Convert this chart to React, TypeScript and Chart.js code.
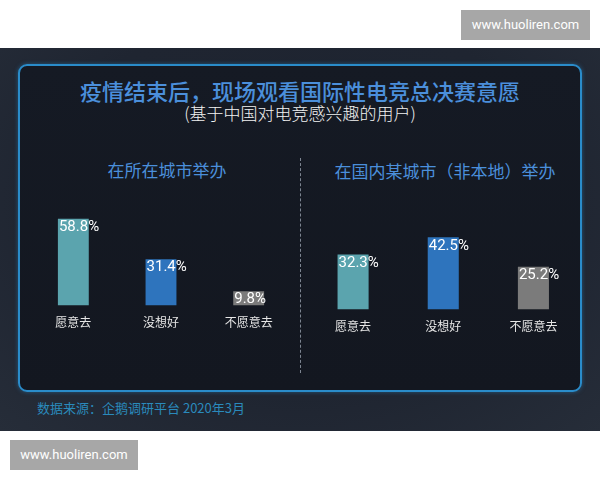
import React, { useEffect, useRef } from "react";
import { Chart, registerables } from "chart.js";

Chart.register(...registerables);

// data
const categories = ["愿意去", "没想好", "不愿意去"];
const localCityValues = [58.8, 31.4, 9.8];
const otherCityValues = [32.3, 42.5, 25.2];
const barColors = ["#5ba4ae", "#2e74bd", "#7b7b7b"];

const CJK = '"Noto Sans CJK SC", "Noto Sans", sans-serif';
const NUM = 'Roboto, "Noto Sans", sans-serif';

// value label at the top-left corner inside each bar
const valueLabels = {
  id: "valueLabels",
  afterDatasetsDraw(chart: any) {
    const ctx = chart.ctx;
    const meta = chart.getDatasetMeta(0);
    const values = chart.data.datasets[0].data as number[];
    ctx.save();
    ctx.fillStyle = "#ffffff";
    ctx.font = "15px " + NUM;
    ctx.textAlign = "left";
    ctx.textBaseline = "top";
    meta.data.forEach((bar: any, i: number) => {
      ctx.fillText(values[i].toFixed(1) + "%", bar.x - bar.width / 2 + 1, bar.y + 1);
    });
    ctx.restore();
  },
};

interface BarPanelProps {
  values: number[];
  yMax: number;
  pad: { left: number; right: number; top: number; bottom: number };
  barPct: number;
}

const BarPanel: React.FC<BarPanelProps> = ({ values, yMax, pad, barPct }) => {
  const canvasRef = useRef<HTMLCanvasElement | null>(null);
  const chartRef = useRef<Chart | null>(null);

  useEffect(() => {
    if (chartRef.current) chartRef.current.destroy();
    if (canvasRef.current) {
      chartRef.current = new Chart(canvasRef.current, {
        type: "bar",
        data: {
          labels: categories,
          datasets: [
            {
              data: values,
              backgroundColor: barColors,
              borderWidth: 0,
              barPercentage: barPct,
              categoryPercentage: 1,
            },
          ],
        },
        options: {
          animation: false,
          responsive: true,
          maintainAspectRatio: false,
          layout: { padding: pad },
          scales: {
            x: {
              grid: { display: false, drawTicks: false },
              border: { display: false },
              ticks: {
                color: "#e6e6e6",
                padding: 10,
                font: { family: CJK, size: 12 },
              },
            },
            y: { display: false, min: 0, max: yMax },
          },
          plugins: { legend: { display: false }, tooltip: { enabled: false } },
        },
        plugins: [valueLabels],
      });
    }
    return () => {
      if (chartRef.current) chartRef.current.destroy();
      chartRef.current = null;
    };
  }, [values, yMax]);

  return <canvas ref={canvasRef} />;
};

const watermark: React.CSSProperties = {
  position: "absolute",
  width: 129,
  height: 30,
  background: "#a7a7a7",
  color: "#ffffff",
  fontFamily: 'Roboto, "Noto Sans", sans-serif',
  fontSize: 13,
  lineHeight: "30px",
  textAlign: "center",
};

export default function App() {
  return (
    <div
      style={{
        position: "absolute",
        left: 0,
        top: 0,
        width: 600,
        height: 480,
        background: "#ffffff",
        overflow: "hidden",
        fontFamily: CJK,
      }}
    >
      <div style={{ ...watermark, left: 461, top: 10 }}>www.huoliren.com</div>
      <div
        style={{
          position: "absolute",
          left: 0,
          top: 48,
          width: 600,
          height: 383,
          background: "radial-gradient(ellipse at 50% 40%, #1d2330 0%, #1f2531 60%, #262d39 100%)",
        }}
      />
      <div
        style={{
          position: "absolute",
          left: 18,
          top: 64,
          width: 560,
          height: 324,
          border: "2px solid #2a8cca",
          borderRadius: 9,
          background: "linear-gradient(180deg, #151a24 0%, #131720 100%)",
          boxShadow: "0 0 4px rgba(42,140,202,0.5)",
        }}
      />
      <div
        style={{
          position: "absolute",
          left: 0,
          top: 76,
          width: 600,
          textAlign: "center",
          color: "#4b8fdb",
          fontSize: 22,
          fontWeight: 500,
          lineHeight: "28px",
        }}
      >
        疫情结束后，现场观看国际性电竞总决赛意愿
      </div>
      <div
        style={{
          position: "absolute",
          left: 0,
          top: 102,
          width: 600,
          textAlign: "center",
          color: "#f2f2f2",
          fontSize: 17,
          fontWeight: 300,
          lineHeight: "22px",
        }}
      >
        (基于中国对电竞感兴趣的用户)
      </div>
      <div
        style={{
          position: "absolute",
          left: 67,
          top: 159,
          width: 200,
          textAlign: "center",
          color: "#4b8fdb",
          fontSize: 17,
          lineHeight: "22px",
        }}
      >
        在所在城市举办
      </div>
      <div
        style={{
          position: "absolute",
          left: 300,
          top: 160,
          width: 290,
          textAlign: "center",
          color: "#4b8fdb",
          fontSize: 17,
          lineHeight: "22px",
        }}
      >
        在国内某城市（非本地）举办
      </div>
      <div
        style={{
          position: "absolute",
          left: 300,
          top: 158,
          height: 215,
          borderLeft: "1px dashed #7d8591",
        }}
      />
      <div style={{ position: "absolute", left: 0, top: 200, width: 300, height: 150 }}>
        <BarPanel
          values={localCityValues}
          yMax={60}
          barPct={31 / 88}
          pad={{ left: 29.5, right: 7.5, top: 17, bottom: 10 }}
        />
      </div>
      <div style={{ position: "absolute", left: 300, top: 200, width: 300, height: 150 }}>
        <BarPanel
          values={otherCityValues}
          yMax={45}
          barPct={31 / 90}
          pad={{ left: 8, right: 21.5, top: 33, bottom: 6 }}
        />
      </div>
      <div
        style={{
          position: "absolute",
          left: 37,
          top: 399,
          color: "#2a8abc",
          fontSize: 13,
          lineHeight: "18px",
        }}
      >
        数据来源：企鹅调研平台 2020年3月
      </div>
      <div style={{ ...watermark, left: 10, top: 440, width: 128 }}>www.huoliren.com</div>
    </div>
  );
}
